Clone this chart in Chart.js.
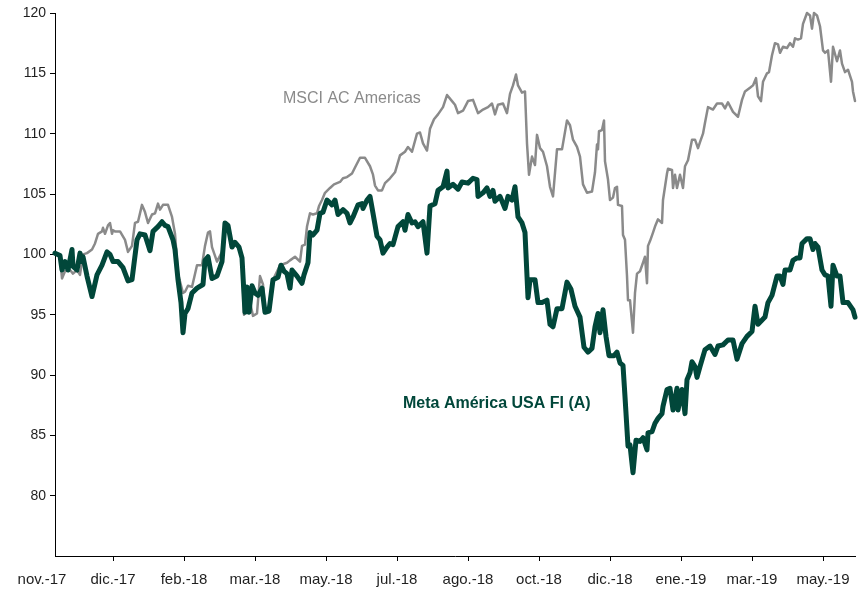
<!DOCTYPE html>
<html><head><meta charset="utf-8">
<script src="https://cdn.jsdelivr.net/npm/chart.js@4.4.1/dist/chart.umd.min.js"></script>
<style>html,body{margin:0;padding:0;background:#fff}#wrap{width:864px;height:594px}</style>
</head><body><div id="wrap"><canvas id="c" width="864" height="594"></canvas></div>
<script>
// x axis: trading-day index from start of series (0 .. 400)
const monthLabels = ['nov.-17','dic.-17','feb.-18','mar.-18','may.-18','jul.-18','ago.-18','oct.-18','dic.-18','ene.-19','mar.-19','may.-19'];
const tickDays = [-6.5, 29, 64.5, 100, 135.5, 171, 206.5, 242, 277.5, 313, 348.5, 384];
const yTickValues = [75, 80, 85, 90, 95, 100, 105, 110, 115, 120];

const metaDays = [
0,2.5,3.5,5,6.5,8.5,9,11,12.5,13.5,
14,16,18.5,21,23.5,26,27.5,29,31.5,34,
36.5,38.5,41,42.5,45,47.5,49,51.5,53.5,55,
56.5,59,60,61.5,63,64,65,66.5,68.5,71,
74,75,76.5,78.5,81,83.5,85,86.5,88.5,90,
92,93.5,95,96,97,98.5,100,101.5,103.5,105,
107,109,111.5,113,114.5,116,117.5,118.5,121,123.5,
124.5,126.5,127.5,129,131,132.5,134,136,138.5,140,
141.5,144,146,147.5,149,151.5,153.5,154,156,157.5,
159,161,162.5,164,166,167.5,169,171.5,174,175,
176.5,178.5,180,181.5,184,186,187.5,190,191.5,194,
196,196.5,199,201.5,203.5,206.5,209,211,211.5,214,
216,217.5,219,220,222.5,225,226.5,228.5,230,231.5,
233.5,235,236,236.5,237.5,240,241.5,243.5,246,247.5,
249,251,253.5,256,258,260,262.5,264.5,266.5,268.5,
270,271.5,272.5,274,275.5,277,279.5,281,282.5,284,
285,286.5,287.5,289,290.5,292.5,294,296,296.5,298.5,
300,301.5,303.5,304,306,307.5,309,311,311.5,313.5,
315,316,317.5,318.5,320,321,322.5,325,327.5,330,
331.5,334,336.5,339,341,343.5,346,348.5,350,351.5,
355,356.5,358.5,361,362.5,364,365,367.5,369,371,
372.5,373.5,376,377.5,379,380,381.5,383.5,385,386.5,
388,389,391,392.5,394,396.5,399,400];
const metaValues = [
100.1,99.9,98.7,99.4,98.7,100.4,99.0,98.7,100.1,99.4,
99.8,98.2,96.5,98.3,99.1,100.2,100.0,99.4,99.4,98.9,
97.8,97.9,101.2,101.7,101.6,100.3,101.9,102.3,102.7,102.4,
102.3,101.2,100.4,97.9,96.0,93.5,95.1,95.5,96.8,97.2,
97.5,99.5,99.8,98.0,98.2,99.4,102.6,102.4,100.6,101.0,
100.6,99.7,95.2,97.3,95.2,97.4,96.8,96.6,97.2,95.2,
95.3,97.9,98.1,99.1,98.6,98.4,97.2,98.7,98.2,97.6,
98.3,99.3,101.8,101.6,102.0,103.4,103.5,104.5,104.1,104.5,
103.3,103.7,103.4,102.6,103.1,104.1,104.2,103.8,104.5,104.8,
103.4,101.5,101.2,100.1,100.6,100.9,100.8,102.3,102.7,102.0,
103.3,102.6,102.7,102.3,102.7,100.1,104.0,104.2,105.3,105.6,
106.9,105.5,105.8,105.4,106.0,105.9,106.3,106.2,104.8,105.1,
105.5,104.8,105.3,104.4,104.8,103.8,104.8,104.5,105.6,103.1,
102.6,101.8,98.2,96.4,97.9,97.9,96.0,96.0,96.2,94.2,
94.0,95.5,95.5,97.7,97.1,95.7,94.8,92.3,91.9,92.2,
94.0,95.1,93.5,95.4,93.2,91.6,91.6,91.9,91.0,90.8,
88.2,84.1,84.2,81.9,84.6,84.5,84.8,83.8,85.2,85.3,
86.0,86.4,86.8,87.4,88.8,88.9,87.1,88.9,87.1,88.8,
86.8,89.6,90.2,91.1,90.7,89.8,90.7,92.1,92.4,91.7,
92.4,92.5,92.9,92.9,91.3,92.6,93.2,93.6,95.7,94.2,
94.8,96.0,96.6,98.2,98.2,97.5,98.7,98.7,99.5,99.7,
99.7,100.9,101.3,101.3,100.4,100.9,100.6,98.7,98.3,98.2,
95.7,99.1,98.2,98.2,96.0,96.0,95.4,94.8];

const msciDays = [
0,2.5,3.5,5,7.5,9,11,12.5,14,16,
18.5,20,21.5,23.5,24,25,26.5,27.5,28.5,29,
30,32.5,35,36.5,38.5,40,41.5,43.5,45,46.5,
48.5,50,51.5,52.5,54,56.5,58.5,60,61.5,63.5,
64,65,66.5,68.5,71,73.5,75,76.5,77.5,78.5,
81,83.5,85,86.5,88.5,90,92.5,93.5,94.5,96.5,
99,101,102.5,104,105,107.5,109,112.5,116,117.5,
120,122.5,123.5,125,126,127.5,129,131,132,133.5,
135,137.5,139.5,142.5,144,146,148.5,150,152.5,155,
157.5,159,160,161.5,163.5,165,167.5,170,172.5,175,
176.5,178.5,181,182.5,184,186,187.5,189.5,191.5,194,
196,198.5,200,201.5,204,206.5,209,211.5,214,216.5,
218.5,220,221.5,224,226,227.5,229,230.5,231.5,233.5,
235,236,237,238.5,240,241,242.5,244,246,247.5,
249,251,253.5,256,257.5,259,261,262.5,264,266,
268.5,270,271,271.5,272,273.5,274.5,275,276.5,277.5,
279,280,281,281.5,283.5,284,285,286,286.5,287.5,
289,290,291,292.5,294,295,296,296.5,297.5,299,
300,301.5,303.5,304,306,306.5,308.5,309,310,311,
312.5,314,315,316.5,318.5,320,321.5,322.5,324,325,
326.5,329,331,333.5,335,336.5,339,341.5,343.5,345,
347.5,349,350.5,351.5,353,354,356,357,358.5,360,
361.5,362.5,364,366,367.5,369,370,371.5,373,374,
376,377.5,378.5,379.5,381,382.5,384,385,386.5,388,
389,391,392.5,393.5,395,396.5,398.5,399,400];
const msciValues = [
100.1,99.8,98.0,98.6,98.7,98.4,98.7,98.3,100.0,100.1,
100.4,100.9,101.7,101.9,102.2,101.7,102.4,102.6,101.7,102.0,
101.9,101.9,101.2,100.2,100.7,102.6,102.7,104.1,103.5,102.6,
103.3,103.4,104.2,103.7,104.1,104.1,103.1,101.7,98.4,97.1,
96.8,96.9,97.4,97.3,99.1,99.1,100.7,101.8,101.9,100.6,
99.4,100.2,102.5,102.3,100.6,100.9,100.5,99.5,95.0,96.8,
94.9,95.1,98.2,97.5,95.4,95.6,97.9,99.1,99.3,99.5,
99.8,99.4,100.7,100.8,102.3,103.4,103.3,103.4,104.0,104.5,
105.1,105.5,105.8,106.0,106.3,106.4,106.7,107.2,108.0,108.0,
107.3,106.6,105.7,105.3,105.3,105.9,106.3,106.8,108.2,108.5,
108.9,108.5,110.0,110.1,109.2,108.6,110.4,111.2,111.6,112.2,
113.2,112.7,112.4,111.7,111.9,112.7,112.8,111.7,112.0,112.2,
112.5,111.6,112.4,112.5,111.7,113.3,114.0,114.9,114.0,113.4,
113.5,109.2,106.6,108.1,107.4,109.9,108.8,108.5,107.3,105.6,
104.8,108.7,108.7,111.1,110.7,109.5,108.9,108.1,105.8,105.1,
105.2,106.8,109.1,108.7,110.2,110.3,111.1,107.7,106.2,104.5,
104.7,105.5,105.6,104.1,104.0,101.6,101.2,98.2,96.2,96.2,
93.5,96.8,98.4,98.6,99.3,99.8,97.6,100.7,101.1,101.8,
102.3,102.9,102.6,104.5,106.7,107.1,107.0,105.5,106.6,105.5,
106.6,105.5,107.3,107.8,109.5,109.5,108.8,109.3,110.0,110.9,
112.2,112.0,112.5,112.5,112.1,112.6,111.8,111.4,112.8,113.5,
113.8,114.0,114.6,113.1,112.7,114.3,115.0,115.1,116.5,117.5,
117.4,116.7,117.2,117.1,117.5,117.2,117.9,117.8,117.9,119.1,
120.0,119.8,118.7,120.0,119.8,118.9,116.9,116.7,116.9,114.3,
117.2,116.0,116.9,115.8,115.1,115.3,114.3,113.5,112.7];

const seriesNames = ['Meta América USA FI (A)', 'MSCI AC Americas'];
const metaLabelPos = {day: 174, value: 87.3};
const msciLabelPos = {day: 114, value: 112.55};

const META_COLOR = '#01473a';
const MSCI_COLOR = '#8a8a8a';

Chart.defaults.font.family = '"Liberation Sans", Arial, sans-serif';

const labelPlugin = {
  id: 'seriesLabels',
  afterDatasetsDraw(chart) {
    const {ctx, scales: {x, y}} = chart;
    ctx.save();
    ctx.textAlign = 'left';
    ctx.textBaseline = 'alphabetic';
    ctx.font = '16px "Liberation Sans", Arial, sans-serif';
    ctx.fillStyle = MSCI_COLOR;
    ctx.fillText(seriesNames[1], x.getPixelForValue(msciLabelPos.day), y.getPixelForValue(msciLabelPos.value));
    ctx.font = 'bold 16px "Liberation Sans", Arial, sans-serif';
    ctx.fillStyle = META_COLOR;
    ctx.fillText(seriesNames[0], x.getPixelForValue(metaLabelPos.day), y.getPixelForValue(metaLabelPos.value));
    ctx.restore();
  }
};

const toPoints = (xs, ys) => xs.map((d, i) => ({x: d, y: ys[i]}));

new Chart(document.getElementById('c'), {
  type: 'line',
  data: {
    datasets: [
      {label: seriesNames[0], data: toPoints(metaDays, metaValues), borderColor: META_COLOR, borderWidth: 5,
       pointRadius: 0, tension: 0, borderJoinStyle: 'round', borderCapStyle: 'round', clip: 6},
      {label: seriesNames[1], data: toPoints(msciDays, msciValues), borderColor: MSCI_COLOR, borderWidth: 2.5,
       pointRadius: 0, tension: 0, borderJoinStyle: 'round', borderCapStyle: 'round', clip: 6}
    ]
  },
  options: {
    responsive: false,
    animation: false,
    devicePixelRatio: 1,
    layout: {padding: {left: 0, right: 9, top: 13, bottom: 0}},
    plugins: {legend: {display: false}, tooltip: {enabled: false}},
    scales: {
      x: {
        type: 'linear', min: 0, max: 400,
        afterBuildTicks(s) { s.ticks = tickDays.map(v => ({value: v})); },
        afterFit(s) { s.height = 38; },
        ticks: {autoSkip: false, maxRotation: 0, minRotation: 0, padding: 10, color: '#1f1f1f',
                font: {size: 15}, callback: (v, i) => monthLabels[i]},
        grid: {drawOnChartArea: false, drawTicks: true, tickLength: 5,
               color: c => (c.index === 0 ? 'rgba(0,0,0,0)' : '#000'), lineWidth: 1},
        border: {display: true, color: '#000', width: 1}
      },
      y: {
        min: 75, max: 120,
        afterBuildTicks(s) { s.ticks = yTickValues.map(v => ({value: v})); },
        afterFit(s) { s.width = 55; },
        ticks: {padding: 4, color: '#1f1f1f', font: {size: 14}, callback: v => (v === 75 ? '' : v)},
        grid: {drawOnChartArea: false, drawTicks: true, tickLength: 5,
               color: c => (c.tick && c.tick.value === 75 ? 'rgba(0,0,0,0)' : '#000'), lineWidth: 1},
        border: {display: true, color: '#000', width: 1}
      }
    }
  },
  plugins: [labelPlugin]
});
</script>
</body></html>
